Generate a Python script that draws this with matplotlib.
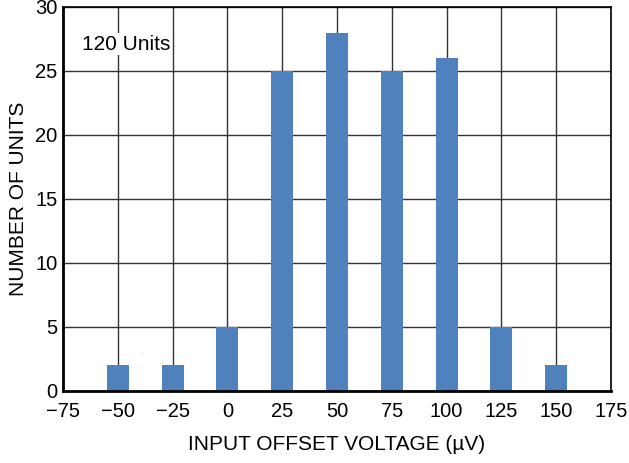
import numpy as np
import matplotlib
matplotlib.use('Agg')
import matplotlib.pyplot as plt

# offset voltage bins (uV) and unit counts
offsets = [-50, -25, 0, 25, 50, 75, 100, 125, 150]
counts = [2, 2, 5, 25, 28, 25, 26, 5, 2]
xticks = [-75, -50, -25, 0, 25, 50, 75, 100, 125, 150, 175]
yticks = [0, 5, 10, 15, 20, 25, 30]

plt.rcParams['font.family'] = ['Liberation Sans', 'DejaVu Sans']

fig = plt.figure(figsize=(6.29, 4.63), dpi=100)
ax = fig.add_axes([63 / 629, 1 - 391 / 463, 548 / 629, 384 / 463])

ax.set_axisbelow(True)
ax.grid(True, color='#333333', lw=1.0)
ax.bar(offsets, counts, width=10, color='#4f81bd', zorder=2)

ax.set_xlim(-75, 175)
ax.set_ylim(0, 30)
ax.set_xticks(xticks)
ax.set_yticks(yticks)
ax.tick_params(length=0, labelsize=14.5)
ax.tick_params(axis='x', pad=8)
ax.tick_params(axis='y', pad=4)

for side in ['left', 'bottom']:
    ax.spines[side].set_linewidth(2)
for side in ['top', 'right']:
    ax.spines[side].set_linewidth(1.2)

ax.set_xlabel('INPUT OFFSET VOLTAGE (\u00b5V)', fontsize=15, labelpad=10)
ax.set_ylabel('NUMBER OF UNITS', fontsize=15, labelpad=5)

ax.text(-66.5, 27.1, '120 Units', fontsize=15, va='center', ha='left',
        bbox=dict(facecolor='white', edgecolor='none', pad=1), zorder=3)

fig.savefig('out.png', dpi=100)
